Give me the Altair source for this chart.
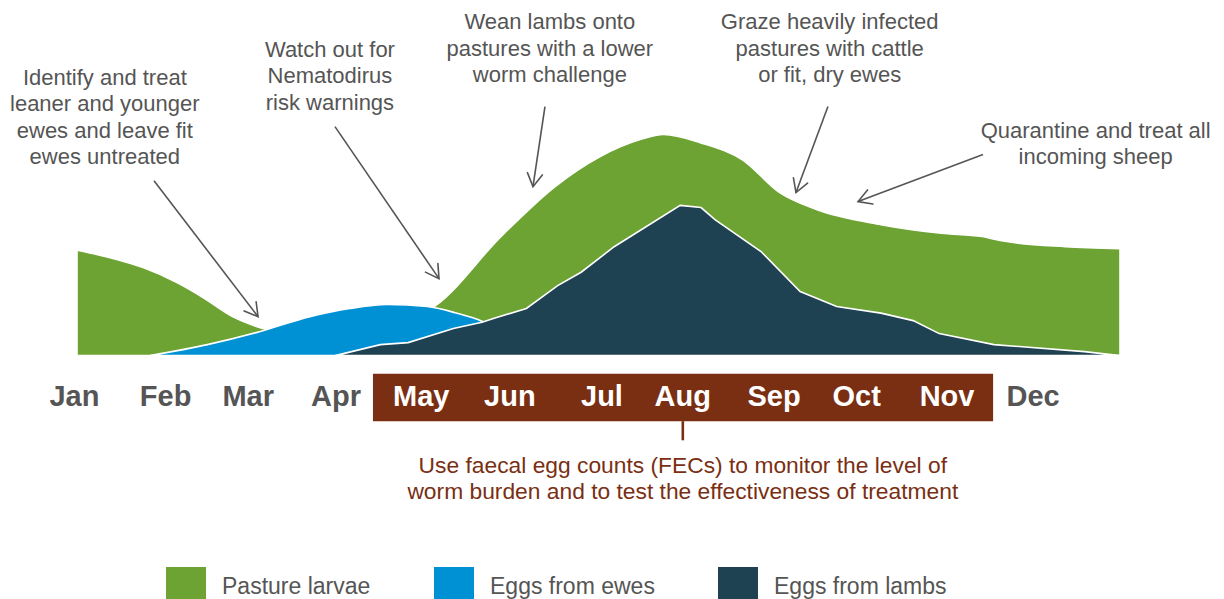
import math
import pandas as pd
import altair as alt

# ---------------- data (x in months from start of Jan, y = relative level) ----------------
green_x = [0.00, 0.38, 0.76, 1.15, 1.45, 1.79, 2.14, 2.45, 2.91, 3.37, 3.72, 4.05, 4.90, 5.49,
           6.02, 6.48, 6.75, 7.17, 7.66, 8.08, 8.50, 9.25, 9.94, 10.41, 10.62, 11.37, 12.00]
green_y = [47.9, 44.5, 40.0, 33.2, 26.4, 17.7, 12.3, 9.5, 8.2, 11.8, 16.4, 20.9, 55.0, 76.5,
           90.5, 98.2, 100.5, 96.8, 88.9, 74.2, 66.5, 59.5, 55.6, 54.1, 52.3, 49.5, 48.6]

blue_x = [0.84, 1.50, 2.11, 2.68, 3.14, 3.57, 4.03, 4.35, 4.66, 4.92, 5.21]
blue_y = [0.0, 5.0, 11.0, 17.7, 21.4, 23.2, 22.3, 19.5, 15.6, 9.5, 0.0]

navy_x = [2.97, 3.49, 3.81, 4.33, 4.66, 4.80, 5.17, 5.53, 5.80, 6.18, 6.94, 7.18, 7.34, 7.87,
          8.32, 8.74, 9.25, 9.62, 9.92, 10.55, 11.59, 12.00]
navy_y = [0.0, 5.0, 5.9, 12.3, 15.2, 17.0, 21.4, 31.8, 37.9, 49.5, 68.3, 67.3, 61.8, 47.3,
          29.1, 22.3, 19.3, 15.9, 10.0, 5.0, 1.8, 0.0]

series_names = ["Pasture larvae", "Eggs from ewes", "Eggs from lambs"]
series_colors = ["#6da332", "#0090d4", "#1f4252"]

months = ["Jan", "Feb", "Mar", "Apr", "May", "Jun", "Jul", "Aug", "Sep", "Oct", "Nov", "Dec"]
month_pos = [-0.03, 1.02, 1.97, 2.98, 3.96, 4.98, 6.04, 6.97, 8.02, 8.97, 10.01, 11.0]

note_lines = [
    ["Identify and treat", "leaner and younger", "ewes and leave fit", "ewes untreated"],
    ["Watch out for", "Nematodirus", "risk warnings"],
    ["Wean lambs onto", "pastures with a lower", "worm challenge"],
    ["Graze heavily infected", "pastures with cattle", "or fit, dry ewes"],
    ["Quarantine and treat all", "incoming sheep"],
]
note_x = [0.32, 2.91, 5.44, 8.66, 11.72]
note_y = [126.4, 139.1, 151.6, 151.6, 102.3]

arrow_x0 = [0.886, 2.968, 5.384, 8.640, 10.424]
arrow_y0 = [79.5, 104.1, 113.2, 113.2, 91.4]
arrow_x1 = [2.083, 4.165, 5.246, 8.272, 8.986]
arrow_y1 = [17.7, 35.0, 76.8, 74.1, 70.0]

fec_lines = ["Use faecal egg counts (FECs) to monitor the level of",
             "worm burden and to test the effectiveness of treatment"]

# ---------------- layout constants ----------------
W, H = 1043, 591
PX_Y = 2.2
X_DOMAIN = [0, 12]
Y_DOMAIN = [158 - H / PX_Y, 158]
PX_X = W / (X_DOMAIN[1] - X_DOMAIN[0])
LINE_STEP = 26.6 / PX_Y
FONT = "Liberation Sans"
GREY = "#555555"
BROWN = "#7a2f13"

xs = alt.Scale(domain=X_DOMAIN, nice=False, zero=False)
ys = alt.Scale(domain=Y_DOMAIN, nice=False, zero=False)
color_scale = alt.Scale(domain=series_names, range=series_colors)

legend = alt.Legend(
    orient="none", legendX=89, legendY=559, direction="horizontal", title=None,
    symbolType="square", symbolSize=1600, symbolStrokeWidth=0, symbolOpacity=1,
    labelFont=FONT, labelFontSize=23, labelColor=GREY, labelOffset=16,
    columnPadding=63, padding=0, labelLimit=400,
)

def area_layer(xv, yv, name, interp):
    df = pd.DataFrame({"x": xv, "y": yv, "series": name})
    return alt.Chart(df).mark_area(
        stroke="white", strokeWidth=1.6, interpolate=interp, opacity=1
    ).encode(
        x=alt.X("x:Q", scale=xs, axis=None),
        y=alt.Y("y:Q", scale=ys, axis=None),
        color=alt.Color("series:N", scale=color_scale, legend=legend),
    )

green = area_layer(green_x, green_y, series_names[0], "monotone")
blue = area_layer(blue_x, blue_y, series_names[1], "monotone")
navy = area_layer(navy_x, navy_y, series_names[2], "linear")

# band behind May..Nov
band_df = pd.DataFrame({"x": [3.405], "x2": [10.54], "y": [-8.2], "y2": [-29.8]})
band = alt.Chart(band_df).mark_rect(color=BROWN).encode(
    x=alt.X("x:Q", scale=xs, axis=None), x2="x2:Q",
    y=alt.Y("y:Q", scale=ys, axis=None), y2="y2:Q",
)
tick_df = pd.DataFrame({"x": [6.97], "y": [-29.8], "y2": [-38.5]})
tick = alt.Chart(tick_df).mark_rule(color=BROWN, strokeWidth=2.6).encode(
    x=alt.X("x:Q", scale=xs, axis=None),
    y=alt.Y("y:Q", scale=ys, axis=None), y2="y2:Q",
)

month_df = pd.DataFrame({"m": months, "pos": month_pos, "y": [-18.6] * len(months)})
month_text = alt.Chart(month_df).mark_text(
    font=FONT, fontSize=29, fontWeight="bold", align="center", baseline="middle"
).encode(
    x=alt.X("pos:Q", scale=xs, axis=None),
    y=alt.Y("y:Q", scale=ys, axis=None),
    text="m:N",
    color=alt.condition(alt.FieldRangePredicate(field="pos", range=[3.5, 10.5]),
                        alt.value("white"), alt.value(GREY)),
)

# annotation text lines
rows = []
for lines, cx, cy in zip(note_lines, note_x, note_y):
    for i, t in enumerate(lines):
        rows.append({"t": t, "x": cx, "y": cy - i * LINE_STEP})
notes = alt.Chart(pd.DataFrame(rows)).mark_text(
    font=FONT, fontSize=22, color=GREY, align="center", baseline="middle"
).encode(
    x=alt.X("x:Q", scale=xs, axis=None),
    y=alt.Y("y:Q", scale=ys, axis=None),
    text="t:N",
)

fec_rows = [{"t": t, "x": 6.97, "y": -50.0 - i * LINE_STEP} for i, t in enumerate(fec_lines)]
fec = alt.Chart(pd.DataFrame(fec_rows)).mark_text(
    font=FONT, fontSize=22.8, color=BROWN, align="center", baseline="middle"
).encode(
    x=alt.X("x:Q", scale=xs, axis=None),
    y=alt.Y("y:Q", scale=ys, axis=None),
    text="t:N",
)

# arrows
angles = []
for x0, y0, x1, y1 in zip(arrow_x0, arrow_y0, arrow_x1, arrow_y1):
    dx = (x1 - x0) * PX_X
    dy = -(y1 - y0) * PX_Y
    angles.append(math.degrees(math.atan2(-dx, dy)) % 360)
arrow_df = pd.DataFrame({"x0": arrow_x0, "y0": arrow_y0, "x1": arrow_x1, "y1": arrow_y1,
                         "ang": angles})
shafts = alt.Chart(arrow_df).mark_rule(color=GREY, strokeWidth=1.6).encode(
    x=alt.X("x0:Q", scale=xs, axis=None), y=alt.Y("y0:Q", scale=ys, axis=None),
    x2="x1:Q", y2="y1:Q",
)
heads = alt.Chart(arrow_df).mark_point(
    shape="M-0.58,-1L0,0L0.58,-1", filled=False, stroke=GREY, strokeWidth=1.6,
    size=676, opacity=1, strokeCap="round", strokeJoin="miter",
).encode(
    x=alt.X("x1:Q", scale=xs, axis=None), y=alt.Y("y1:Q", scale=ys, axis=None),
    angle=alt.Angle("ang:Q", scale=None),
)

chart = alt.layer(
    band, tick, month_text, green, blue, navy, shafts, heads, notes, fec
).properties(
    width=W, height=H,
    autosize=alt.AutoSizeParams(type="none"),
    padding={"left": 69, "right": 96, "top": 0, "bottom": 0},
).configure_view(stroke=None).resolve_scale(color="shared")

chart.save("out.html", embed_options={"renderer": "svg", "actions": False})
